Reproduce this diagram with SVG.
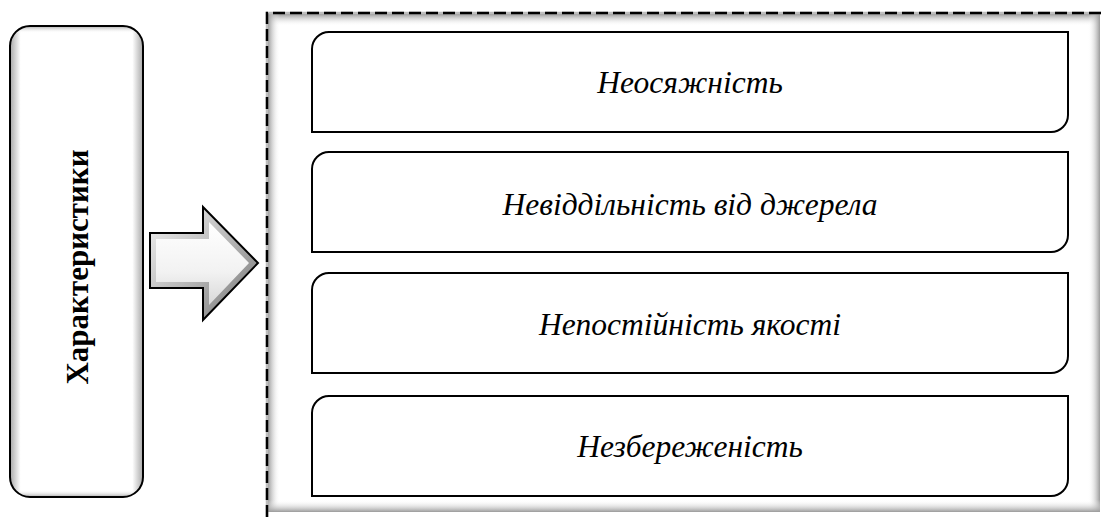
<svg xmlns="http://www.w3.org/2000/svg" width="1103" height="517" viewBox="0 0 1103 517">
<defs>
<style>
.item{fill:#fff;stroke:#000;stroke-width:2}
.lbl{font-family:"Liberation Serif","Times New Roman",serif;font-style:italic;font-size:31.5px;fill:#000;text-anchor:middle}
.title{font-family:"Liberation Serif","Times New Roman",serif;font-weight:bold;font-size:31px;fill:#000;text-anchor:middle}
</style>
<linearGradient id="gTop" x1="0" y1="0" x2="0" y2="1"><stop offset="0" stop-color="#9a9a9a"/><stop offset="1" stop-color="#fff" stop-opacity="0"/></linearGradient>
<linearGradient id="gBot" x1="0" y1="1" x2="0" y2="0"><stop offset="0" stop-color="#9a9a9a"/><stop offset="1" stop-color="#fff" stop-opacity="0"/></linearGradient>
<linearGradient id="gLeft" x1="0" y1="0" x2="1" y2="0"><stop offset="0" stop-color="#9a9a9a"/><stop offset="1" stop-color="#fff" stop-opacity="0"/></linearGradient>
<linearGradient id="gRight" x1="1" y1="0" x2="0" y2="0"><stop offset="0" stop-color="#9a9a9a"/><stop offset="1" stop-color="#fff" stop-opacity="0"/></linearGradient>
<linearGradient id="arrowG" x1="0" y1="0" x2="1" y2="1"><stop offset="0" stop-color="#f4f4f4"/><stop offset="0.5" stop-color="#b8b8b8"/><stop offset="1" stop-color="#707070"/></linearGradient>
<linearGradient id="arrowIn" x1="0" y1="0" x2="0" y2="1"><stop offset="0" stop-color="#ffffff"/><stop offset="0.6" stop-color="#f2f2f2"/><stop offset="1" stop-color="#d8d8d8"/></linearGradient>
<linearGradient id="boxG" x1="0" y1="0" x2="1" y2="0"><stop offset="0" stop-color="#a8a8a8"/><stop offset="0.08" stop-color="#fff"/><stop offset="0.92" stop-color="#fff"/><stop offset="1" stop-color="#a8a8a8"/></linearGradient>
<linearGradient id="boxGv" x1="0" y1="0" x2="0" y2="1"><stop offset="0" stop-color="#a8a8a8"/><stop offset="0.015" stop-color="#fff" stop-opacity="0"/><stop offset="0.985" stop-color="#fff" stop-opacity="0"/><stop offset="1" stop-color="#a8a8a8"/></linearGradient>
</defs>

<g id="container">
<rect x="267" y="13" width="834" height="500" fill="#fff"/>
<rect x="268" y="14" width="832" height="12" fill="url(#gTop)"/>
<rect x="268" y="14" width="12" height="498" fill="url(#gLeft)"/>
<rect x="1088" y="14" width="12" height="498" fill="url(#gRight)"/>
<rect x="268" y="500" width="832" height="12" fill="url(#gBot)"/>
<path d="M267 517 V13 H1101" fill="none" stroke="#bdbdbd" stroke-width="2.5"/>
<path d="M267 517 V13 H1101" fill="none" stroke="#000" stroke-width="2.5" stroke-dasharray="12,5"/>
</g>

<g id="source">
<rect x="10" y="26" width="133" height="471" rx="20" ry="20" fill="url(#boxG)"/>
<rect x="10" y="26" width="133" height="471" rx="20" ry="20" fill="url(#boxGv)" stroke="#000" stroke-width="2"/>
<text class="title" transform="translate(88,267) rotate(-90)">Характеристики</text>
</g>

<g id="connectors">
<polygon points="150,233 203,233 203,207 258,263 203,320 203,288 150,288" fill="url(#arrowG)" stroke="#000" stroke-width="2"/>
<polygon points="156,239 209,239 209,222 249,263 209,305 209,282 156,282" fill="url(#arrowIn)"/>
</g>

<g id="n1">
<path class="item" d="M329 32 H1068 V115 A17 17 0 0 1 1051 132 H312 V49 A17 17 0 0 1 329 32 Z"/>
<text class="lbl" x="690" y="93">Неосяжність</text>
</g>
<g id="n2">
<path class="item" d="M329 152 H1068 V235 A17 17 0 0 1 1051 252 H312 V169 A17 17 0 0 1 329 152 Z"/>
<text class="lbl" x="690" y="215">Невіддільність від джерела</text>
</g>
<g id="n3">
<path class="item" d="M329 273 H1068 V356 A17 17 0 0 1 1051 373 H312 V290 A17 17 0 0 1 329 273 Z"/>
<text class="lbl" x="690" y="335">Непостійність якості</text>
</g>
<g id="n4">
<path class="item" d="M329 396 H1068 V479 A17 17 0 0 1 1051 496 H312 V413 A17 17 0 0 1 329 396 Z"/>
<text class="lbl" x="690" y="457">Незбереженість</text>
</g>
</svg>
